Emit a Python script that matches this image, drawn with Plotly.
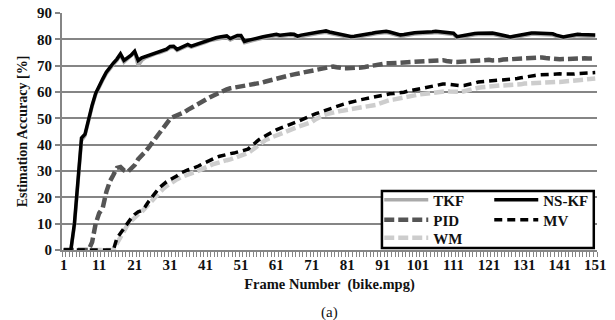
import plotly.graph_objects as go

# Frame numbers 1..151 of bike.mpg
frames = list(range(1, 152))

# Estimation accuracy [%] per frame, one list per method
tkf = [
    0, 0, 0, 9, 25, 41.5, 43.5, 49.5, 54.5, 59, 62, 64.5, 67, 69, 70.5, 72, 74, 71.3, 72.5, 73.5,
    75, 70, 72, 73, 73.6, 74.1, 74.6, 74.9, 75.4, 75.9, 76.8, 77, 75.8, 76.3, 77, 77.6, 77, 77.4, 77.9, 78.4,
    78.8, 79.4, 79.7, 80.1, 80.4, 80.7, 80.8, 79.8, 80.4, 81, 81, 78.7, 79.1, 79.5, 79.8, 80.1, 80.4, 80.7, 81, 81.2,
    81.4, 81.1, 81.3, 81.4, 81.5, 81.4, 80.7, 81.1, 81.4, 81.7, 81.9, 82.1, 82.3, 82.5, 82.7, 82.3, 82, 81.7, 81.4, 81.1,
    80.8, 80.6, 80.7, 80.9, 81, 81.1, 81.4, 81.8, 82.1, 82.3, 82.5, 82.6, 82.3, 81.9, 81.5, 81.2, 81.3, 81.6, 81.9, 82,
    82.1, 82.1, 82.2, 82.3, 82.4, 82.6, 82.5, 82.3, 82.1, 81.9, 81.8, 80.5, 80.8, 81.1, 81.3, 81.5, 81.7, 81.8, 81.9, 82,
    82.1, 81.9, 81.6, 81.3, 80.9, 80.6, 80.4, 80.7, 81, 81.3, 81.5, 81.7, 81.9, 81.9, 81.9, 81.8, 81.7, 81.7, 81.6, 81.1,
    80.6, 80.4, 80.7, 81, 81.3, 81.4, 81.3, 81.2, 81.2, 81.1, 81.1,
]
nskf = [
    0, 0, 0, 10, 26, 42.5, 44, 50, 55, 59.5, 62.5, 65, 67.5, 69.5, 71, 72.5, 74.5, 72, 73, 74,
    75.5, 72, 73, 73.5, 74, 74.5, 75, 75.3, 75.8, 76.3, 77.3, 77.4, 76.2, 76.8, 77.5, 78.1, 77.4, 77.9, 78.4, 78.9,
    79.3, 79.9, 80.2, 80.6, 80.9, 81.2, 81.3, 80.3, 80.9, 81.5, 81.5, 79.2, 79.6, 80, 80.3, 80.6, 80.9, 81.2, 81.5, 81.7,
    81.9, 81.6, 81.8, 81.9, 82, 81.9, 81.2, 81.6, 81.9, 82.2, 82.4, 82.6, 82.8, 83, 83.2, 82.8, 82.5, 82.2, 81.9, 81.6,
    81.3, 81.1, 81.2, 81.4, 81.5, 81.6, 81.9, 82.3, 82.6, 82.8, 83, 83.1, 82.8, 82.4, 82, 81.7, 81.8, 82.1, 82.4, 82.5,
    82.6, 82.6, 82.7, 82.8, 82.9, 83.1, 83, 82.8, 82.6, 82.4, 82.3, 81, 81.3, 81.6, 81.8, 82, 82.2, 82.3, 82.4, 82.5,
    82.6, 82.4, 82.1, 81.8, 81.4, 81.1, 80.9, 81.2, 81.5, 81.8, 82, 82.2, 82.4, 82.4, 82.4, 82.3, 82.2, 82.2, 82.1, 81.6,
    81.1, 80.9, 81.2, 81.5, 81.8, 81.9, 81.8, 81.7, 81.7, 81.6, 81.6,
]
pid = [
    0, 0, 0, 0, 0, 0, 0, 0, 3, 10, 14, 16, 22, 26, 28.5, 31.2, 31.5, 30.2, 29.6, 31,
    32.2, 34.5, 35.8, 37.3, 39, 40.8, 42.7, 44.5, 46.3, 48.1, 49.8, 50.6, 51.1, 51.6, 52.3, 53.2, 54, 55, 55.5, 56.2,
    57, 57.8, 58.5, 59.2, 59.8, 60.4, 61, 61.4, 61.6, 61.8, 62, 62.3, 62.6, 62.9, 63.1, 63.3, 63.6, 64, 64.4, 64.7,
    65.1, 65.4, 65.8, 66.1, 66.4, 66.7, 67, 67.3, 67.7, 68, 68.2, 68.5, 68.8, 69.1, 69.5, 69.8, 69.7, 69.4, 69.1, 69,
    69, 69, 69.1, 69.2, 69.3, 69.5, 69.8, 70.1, 70.4, 70.6, 70.8, 70.9, 70.9, 71, 71.1, 71.2, 71.3, 71.4, 71.4, 71.5,
    71.5, 71.6, 71.7, 71.8, 72, 72.1, 72.2, 72.1, 71.8, 71.5, 71.4, 71.4, 71.5, 71.7, 71.9, 72, 72.1, 72.2, 72.3, 72.4,
    72.2, 72, 71.9, 72.1, 72.3, 72.4, 72.4, 72.5, 72.6, 72.7, 72.8, 72.9, 73, 73.1, 73.2, 73.1, 72.9, 72.7, 72.5, 72.4,
    72.4, 72.5, 72.6, 72.7, 72.7, 72.8, 72.8, 72.8, 72.7, 72.7, 72.7,
]
mv = [
    0, 0, 0, 0, 0, 0, 0, 0, 0, 0, 0, 0, 0, 0, 0, 4.5, 6.5, 8, 10, 12,
    13.5, 14.5, 15, 16.5, 18.5, 20.5, 22, 23.7, 25, 25.9, 26.7, 27.3, 28.2, 29.2, 29.9, 30.4, 30.8, 31.2, 31.9, 32.6,
    33.3, 34, 34.6, 35.1, 35.6, 36, 36.4, 36.6, 36.8, 37.1, 37.5, 37.8, 38.3, 39.5, 40.8, 41.8, 42.7, 43.5, 44.2, 44.9,
    45.6, 46.2, 46.8, 47.3, 47.8, 48.3, 48.8, 49.3, 49.9, 50.5, 51.1, 51.7, 52.2, 52.7, 53.2, 53.7, 54.2, 54.6, 55, 55.4,
    55.8, 56.2, 56.5, 56.8, 57.1, 57.4, 57.7, 58, 58.3, 58.6, 58.9, 59.1, 59.3, 59.4, 59.5, 59.6, 59.9, 60.3, 60.6, 60.9,
    61.2, 61.5, 61.8, 62, 62.2, 62.4, 62.7, 63, 63, 62.8, 62.6, 62.5, 62.4, 62.5, 62.7, 63, 63.4, 63.8, 63.9, 64,
    64.1, 64.2, 64.4, 64.5, 64.6, 64.7, 64.7, 64.9, 65.1, 65.4, 65.7, 65.9, 66.1, 66.3, 66.5, 66.6, 66.7, 66.8, 66.9, 67,
    66.9, 66.8, 66.7, 66.7, 66.8, 67, 67.1, 67.2, 67.3, 67.4, 67.4,
]
wm = [
    0, 0, 0, 0, 0, 0, 0, 0, 0, 0, 0, 0, 0, 0, 0, 2.5, 5, 7.5, 9.5, 11,
    12.5, 13.5, 14.5, 16, 17.5, 19, 20.5, 22, 23.2, 24.3, 25.3, 26.1, 26.9, 27.6, 28.2, 28.7, 29.1, 29.5, 30, 30.6,
    31.2, 31.9, 32.5, 33, 33.4, 33.8, 34.1, 34.4, 34.8, 35.2, 35.6, 36, 36.8, 37.8, 38.8, 40, 41, 41.8, 42.4, 43,
    43.5, 44, 44.6, 45.1, 45.7, 46.2, 46.7, 47.1, 47.5, 47.8, 48.6, 49.6, 50.4, 51, 51.5, 51.9, 52.3, 52.6, 52.8, 53,
    53.2, 53.3, 53.5, 53.7, 53.9, 54.1, 54.4, 54.7, 55.1, 55.6, 56.1, 56.6, 56.9, 57.1, 57.3, 57.5, 57.7, 58, 58.3, 58.7,
    59, 59.2, 59.4, 59.6, 59.7, 59.8, 60, 60.2, 60.3, 60.2, 60, 59.9, 60, 60.3, 60.7, 61.1, 61.4, 61.6, 61.8, 62,
    62.2, 62.3, 62.4, 62.5, 62.5, 62.5, 62.5, 62.5, 62.6, 62.9, 63.2, 63.3, 63.4, 63.5, 63.7, 63.8, 63.8, 63.8, 63.8, 63.8,
    63.8, 63.9, 64, 64.2, 64.4, 64.6, 64.8, 64.9, 65, 65.1, 65.1,
]

x_ticks = list(range(1, 152, 10))
y_ticks = list(range(0, 91, 10))

SERIF = "Liberation Serif"
GRID = "#858585"
INK = "#111111"

# (name, values, line style, legend row)
series = [
    ("TKF", tkf, dict(color="#a9a9a9", width=3.5, dash="solid"), "legend"),
    ("NS-KF", nskf, dict(color="#000000", width=3.5, dash="solid"), "legend"),
    ("PID", pid, dict(color="#555555", width=4.5, dash="10px,4px"), "legend2"),
    ("MV", mv, dict(color="#000000", width=3.5, dash="8px,5px"), "legend2"),
    ("WM", wm, dict(color="#cdcdcd", width=4.5, dash="10px,4px"), "legend3"),
]

fig = go.Figure()
# lighter curves first so the darker ones sit on top
for name in ["WM", "TKF", "PID", "MV", "NS-KF"]:
    n, vals, line, leg = next(s for s in series if s[0] == name)
    fig.add_trace(go.Scatter(
        x=frames, y=vals, name=n, mode="lines", line=line, legend=leg,
    ))

# legend frame
fig.add_shape(
    type="rect", xref="paper", yref="paper",
    x0=0.598, x1=0.994, y0=0.008, y1=0.249,
    line=dict(color="#000000", width=2.5), fillcolor="white", layer="above",
)

legend_font = dict(family=SERIF, size=15, color=INK, weight="bold")


def legend_row(y):
    # one horizontal legend per row; fixed entry width keeps the two columns aligned
    return dict(
        orientation="h", x=0.593, y=y, xanchor="left", yanchor="middle",
        bgcolor="rgba(0,0,0,0)", borderwidth=0, font=legend_font,
        entrywidth=51, entrywidthmode="pixels", itemwidth=44,
        traceorder="normal",
    )


fig.update_layout(
    width=615, height=320,
    margin=dict(l=62, r=18, t=13, b=70, autoexpand=False),
    paper_bgcolor="white", plot_bgcolor="white",
    showlegend=True,
    legend=legend_row(0.211),
    legend2=legend_row(0.127),
    legend3=legend_row(0.051),
    xaxis=dict(
        range=[0.5, 151.5], tickmode="array", tickvals=x_ticks,
        ticktext=[str(v) for v in x_ticks],
        ticks="", showgrid=False, zeroline=False,
        showline=True, linecolor=GRID, linewidth=2,
        tickfont=dict(family=SERIF, size=15, color=INK, weight="bold"),
        minor=dict(ticks="outside", tick0=0.5, dtick=1, ticklen=5,
                   tickcolor=GRID, tickwidth=1, showgrid=False),
        title=dict(text="Frame Number  (bike.mpg)", standoff=7,
                   font=dict(family=SERIF, size=14.5, color=INK, weight="bold")),
        automargin=False,
    ),
    yaxis=dict(
        range=[0, 90], tickmode="array", tickvals=y_ticks,
        ticks="outside", ticklen=5, tickcolor=GRID, tickwidth=2,
        showgrid=True, gridcolor=GRID, gridwidth=2, zeroline=False,
        showline=True, linecolor=GRID, linewidth=2,
        tickfont=dict(family=SERIF, size=15, color=INK, weight="bold"),
        title=dict(text="Estimation Accuracy [%]", standoff=6,
                   font=dict(family=SERIF, size=14, color=INK, weight="bold")),
        automargin=False,
    ),
    annotations=[dict(
        text="(a)", xref="paper", yref="paper", x=0.5, y=-0.262,
        xanchor="center", yanchor="middle", showarrow=False,
        font=dict(family=SERIF, size=15, color=INK),
    )],
)

fig.write_html("out.html")
